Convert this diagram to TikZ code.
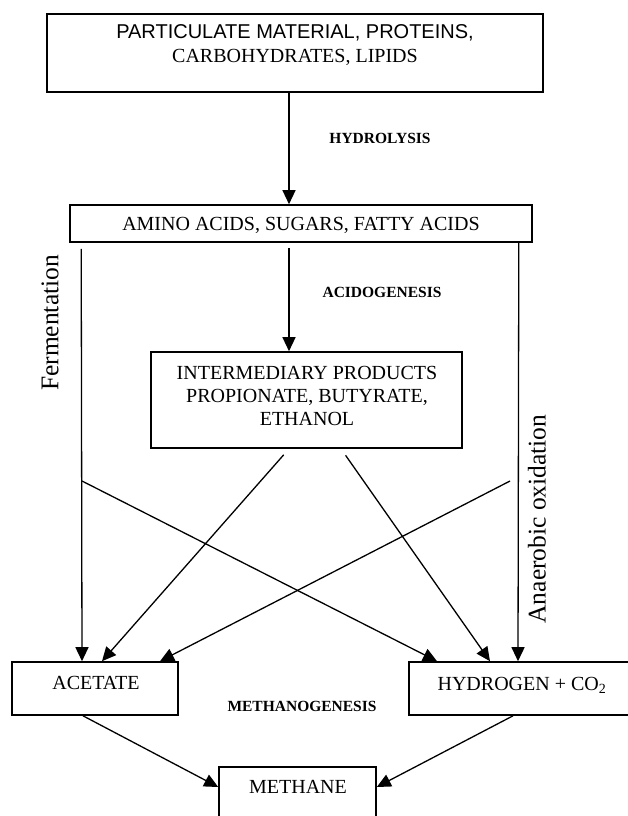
\documentclass[tikz,border=0pt]{standalone}
\usepackage{fontspec}
\setmainfont{Liberation Serif}
\newfontfamily\arialfont{Liberation Sans}
\usetikzlibrary{arrows.meta}

\tikzset{box/.style = {shape = rectangle,
                       color = black,
                       line width = 1.6pt,
                       inner sep = 0pt,
                       draw}}

\begin{document}
\begin{tikzpicture}[x = 1pt, y = -1pt,
                    boxtext/.style = {font = \fontsize{20}{24}\selectfont,
                                      align = center,
                                      inner sep = 0pt},
                    stage/.style = {font = \fontsize{15.5}{18}\selectfont\bfseries,
                                    inner sep = 0pt},
                    route/.style = {font = \fontsize{25.5}{30}\selectfont,
                                    rotate = 90,
                                    inner sep = 0pt},
                    flow/.style = {line width = 1.3pt,
                                   -{Triangle[length = 14pt, width = 13pt]}}]
		\useasboundingbox (0,0) rectangle (628,816);
		\clip (0,0) rectangle (628,816);
		% boxes
		\node[box, minimum width = 496pt, minimum height = 78pt] (particulate) at (295,53) {};
		\node[boxtext] (particulatetext) at (295,45) {{\arialfont PARTICULATE MATERIAL, PROTEINS,}\\CARBOHYDRATES, LIPIDS};
		\node[box, minimum width = 462pt, minimum height = 37pt] (amino) at (301,223.5) {};
		\node[boxtext] (aminotext) at (301,225) {AMINO ACIDS, SUGARS, FATTY ACIDS};
		\node[box, minimum width = 311pt, minimum height = 96pt] (intermediary) at (306.5,400) {};
		\node[boxtext, font = \fontsize{20}{23}\selectfont] (intermediarytext) at (307,396) {INTERMEDIARY PRODUCTS\\PROPIONATE, BUTYRATE,\\ETHANOL};
		\node[box, minimum width = 166pt, minimum height = 53pt] (acetate) at (95,688.5) {};
		\node[boxtext] (acetatetext) at (96,683) {ACETATE};
		\node[box, minimum width = 226pt, minimum height = 53pt] (hydrogen) at (522,688.5) {};
		\node[boxtext] (hydrogentext) at (522,685) {HYDROGEN + CO\textsubscript{2}};
		\node[box, minimum width = 157pt, minimum height = 51pt] (methane) at (297.5,792.5) {};
		\node[boxtext] (methanetext) at (298,787) {METHANE};
		% stage names
		\node[stage] (hydrolysis) at (380,138) {HYDROLYSIS};
		\node[stage] (acidogenesis) at (382,292) {ACIDOGENESIS};
		\node[stage] (methanogenesis) at (302,706) {METHANOGENESIS};
		\node[route] (fermentation) at (50,323) {Fermentation};
		\node[route] (oxidation) at (537,519) {Anaerobic oxidation};
		% flows
		\coordinate (fermsplit) at (82,481);
		\coordinate (oxsplit) at (510,481);
		\path ([xshift = -6pt]particulate.south) edge[flow] ([xshift = -12pt]amino.north);
		\path ([xshift = -12pt]amino.south) edge[flow, shorten <= 5pt] ([xshift = -17.5pt]intermediary.north);
		\path ([xshift = 12pt]amino.south west) edge[flow, shorten <= 6pt] ([xshift = -13pt]acetate.north);
		\path ([xshift = -14pt]amino.south east) edge[flow] ([xshift = -4pt]hydrogen.north);
		\path ([xshift = -17.5pt]intermediary.south) edge[flow, shorten <= 8pt] ([xshift = 7pt]acetate.north);
		\path ([xshift = 34.5pt]intermediary.south) edge[flow, shorten <= 8pt] ([xshift = -32pt]hydrogen.north);
		\path (fermsplit) edge[flow] ([xshift = -85pt]hydrogen.north);
		\path (oxsplit) edge[flow] ([xshift = 65pt]acetate.north);
		\path ([xshift = -12pt]acetate.south) edge[flow] ([yshift = 5.5pt]methane.west);
		\path ([xshift = -9pt]hydrogen.south) edge[flow] ([yshift = 5.5pt]methane.east);
	\end{tikzpicture}
\end{document}
